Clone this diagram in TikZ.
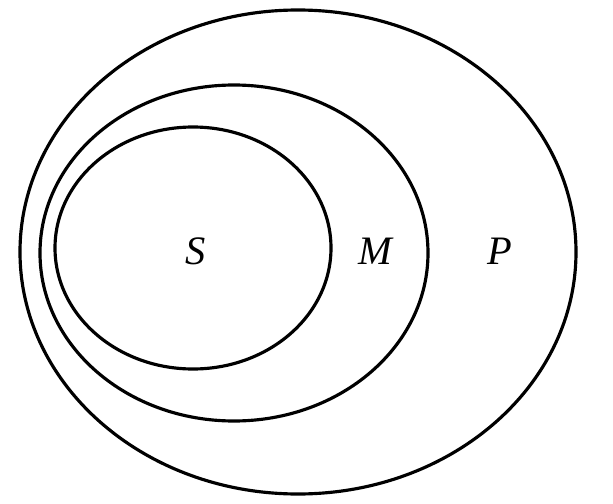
\documentclass[tikz,border=0pt]{standalone}
\usepackage{fontspec}
\setmainfont{Liberation Serif}
\usepackage{tikz}
\usetikzlibrary{positioning}

\begin{document}
\begin{tikzpicture}[
  x=0.02cm, y=-0.02cm,
  setline/.style={draw=black, line width=1.8pt},
  setlabel/.style={font=\fontsize{23}{26}\selectfont\itshape, inner sep=0pt}
]
\useasboundingbox (0,0) rectangle (613,504);
\draw[setline] (298,252) ellipse [x radius=278, y radius=242];
\draw[setline] (234,253) ellipse [x radius=194, y radius=168];
\draw[setline] (193,248) ellipse [x radius=138, y radius=121];

\node[setlabel] (labS) at (196,251) {S};
\node[setlabel] (labM) at (375,251) {M};
\node[setlabel] (labP) at (500,251) {P};
\end{tikzpicture}
\end{document}
